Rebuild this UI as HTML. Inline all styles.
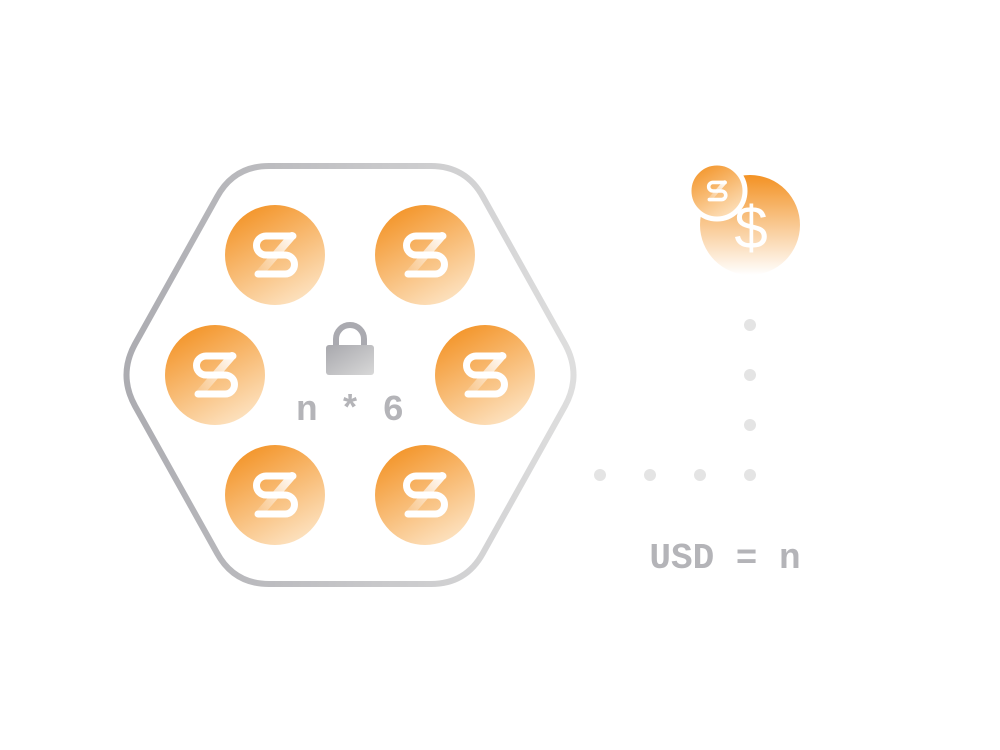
<!DOCTYPE html>
<html><head><style>body{margin:0;background:#fff}svg{display:block}</style></head><body>
<svg width="1000" height="750" viewBox="0 0 1000 750" xmlns="http://www.w3.org/2000/svg">
<defs>
<linearGradient id="cg" x1="0.2" y1="0" x2="0.75" y2="1"><stop offset="0" stop-color="#f39224"/><stop offset="1" stop-color="#fde4c4"/></linearGradient>
<linearGradient id="dg" x1="0.5" y1="0" x2="0.5" y2="1"><stop offset="0" stop-color="#f39224"/><stop offset="1" stop-color="#fff"/></linearGradient>
<linearGradient id="hg" x1="0" y1="0" x2="1" y2="0"><stop offset="0" stop-color="#acacb1"/><stop offset="1" stop-color="#dedede"/></linearGradient>
<linearGradient id="lg" x1="0" y1="0" x2="1" y2="1"><stop offset="0" stop-color="#a8a8ad"/><stop offset="1" stop-color="#d8d8d8"/></linearGradient>
<linearGradient id="sg" gradientUnits="userSpaceOnUse" x1="17" y1="-19" x2="-17" y2="19"><stop offset="0" stop-color="#fff" stop-opacity="0.95"/><stop offset="1" stop-color="#fff" stop-opacity="0.1"/></linearGradient>
<g id="coin">
<circle r="50" fill="url(#cg)"/>
<path d="M18 -19 H-9 a9.5 9.5 0 0 0 0 19 H10 a9.5 9.5 0 0 1 0 19 H-17" fill="none" stroke="#fff" stroke-width="7" stroke-linecap="round" stroke-linejoin="round"/>
<path d="M17 -19 L-16 19" stroke="url(#sg)" stroke-width="8" stroke-linecap="round"/>
</g>
</defs>
<path d="M269 166 H431 Q466 166 483 197 L565 344 Q582 375 565 406 L483 553 Q466 584 431 584 H269 Q234 584 217 553 L135 406 Q118 375 135 344 L217 197 Q234 166 269 166Z" fill="none" stroke="url(#hg)" stroke-width="6"/>
<use href="#coin" x="275" y="255"/>
<use href="#coin" x="425" y="255"/>
<use href="#coin" x="215" y="375"/>
<use href="#coin" x="485" y="375"/>
<use href="#coin" x="275" y="495"/>
<use href="#coin" x="425" y="495"/>
<path d="M336 346 V339 a14 14 0 0 1 28 0 V346" fill="none" stroke="#aaaab0" stroke-width="6"/>
<rect x="326" y="345" width="48" height="30" rx="3" fill="url(#lg)"/>
<text x="350" y="420" text-anchor="middle" font-family="Liberation Mono, monospace" font-weight="bold" font-size="36" fill="#b4b4b8">n * 6</text>
<circle cx="750" cy="225" r="50" fill="url(#dg)"/>
<text x="751" y="248" text-anchor="middle" font-family="Liberation Sans, sans-serif" font-size="60" fill="#fff">$</text>
<circle cx="717" cy="191" r="28" fill="url(#cg)" stroke="#fff" stroke-width="5"/>
<g transform="translate(717,191) scale(0.45)">
<path d="M18 -19 H-9 a9.5 9.5 0 0 0 0 19 H10 a9.5 9.5 0 0 1 0 19 H-17" fill="none" stroke="#fff" stroke-width="8" stroke-linecap="round"/>
<path d="M17 -19 L-16 19" stroke="url(#sg)" stroke-width="9" stroke-linecap="round"/>
</g>
<g fill="#e4e4e4">
<circle cx="750" cy="325" r="6"/><circle cx="750" cy="375" r="6"/><circle cx="750" cy="425" r="6"/><circle cx="750" cy="475" r="6"/>
<circle cx="700" cy="475" r="6"/><circle cx="650" cy="475" r="6"/><circle cx="600" cy="475" r="6"/>
</g>
<text x="725" y="568" text-anchor="middle" font-family="Liberation Mono, monospace" font-weight="bold" font-size="36" fill="#b4b4b8">USD = n</text>
</svg>
</body></html>
